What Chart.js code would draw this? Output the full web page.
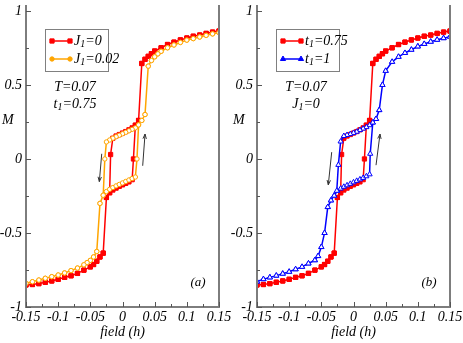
<!DOCTYPE html>
<html>
<head>
<meta charset="utf-8">
<script src="https://cdn.jsdelivr.net/npm/chart.js@4/dist/chart.umd.min.js"></script>
<style>
  html, body { margin: 0; padding: 0; background: #fff; }
  #wrap { position: relative; width: 463px; height: 343px; }
  canvas { position: absolute; top: 0; }
</style>
</head>
<body>
<div id="wrap">
  <canvas id="chartA" width="231" height="343" style="left:0"></canvas>
  <canvas id="chartB" width="232" height="343" style="left:231px"></canvas>
</div>
<script>
// each loop is split in 4 parts: lower outer branch, inner ascending branch,
// upper outer branch, inner descending branch (field h -> magnetisation M)

// J1=0, t1=0.75 (red, in both panels)
const redLowH = [-0.15, -0.14, -0.13, -0.12, -0.11, -0.10, -0.09, -0.08, -0.07, -0.06, -0.05, -0.045, -0.04, -0.035, -0.03];
const redLowM = [-0.851, -0.848, -0.842, -0.833, -0.824, -0.813, -0.800, -0.789, -0.773, -0.751, -0.729, -0.713, -0.691, -0.662, -0.636];
const redUpH = [-0.025, -0.02, -0.015, -0.01, -0.005, 0, 0.005, 0.01, 0.015, 0.017, 0.02, 0.025];
const redUpM = [-0.26, -0.228, -0.21, -0.197, -0.185, -0.175, -0.165, -0.155, -0.14, 0.0, 0.228, 0.26];
const redHighH = [0.03, 0.035, 0.04, 0.045, 0.05, 0.06, 0.07, 0.08, 0.09, 0.10, 0.11, 0.12, 0.13, 0.14, 0.15];
const redHighM = [0.645, 0.673, 0.693, 0.711, 0.729, 0.751, 0.773, 0.789, 0.804, 0.817, 0.829, 0.837, 0.848, 0.857, 0.864];
const redDownH = [0.025, 0.02, 0.015, 0.01, 0.005, 0, -0.005, -0.01, -0.015, -0.0185, -0.02, -0.025];
const redDownM = [0.26, 0.228, 0.21, 0.197, 0.185, 0.175, 0.165, 0.155, 0.14, 0.03, -0.228, -0.26];

// J1=0.02 (orange, panel a)
const orgLowH = [-0.15, -0.14, -0.13, -0.12, -0.11, -0.10, -0.09, -0.08, -0.07, -0.06, -0.055, -0.05, -0.045, -0.04];
const orgLowM = [-0.84, -0.829, -0.818, -0.806, -0.795, -0.784, -0.77, -0.754, -0.737, -0.715, -0.70, -0.685, -0.662, -0.625];
const orgUpH = [-0.035, -0.03, -0.025, -0.02, -0.015, -0.01, -0.005, 0, 0.005, 0.01, 0.015, 0.02, 0.0225, 0.025, 0.03, 0.035];
const orgUpM = [-0.30, -0.245, -0.22, -0.205, -0.193, -0.182, -0.172, -0.162, -0.152, -0.142, -0.132, -0.122, 0.0, 0.23, 0.26, 0.30];
const orgHighH = [0.04, 0.045, 0.05, 0.055, 0.06, 0.07, 0.08, 0.09, 0.10, 0.11, 0.12, 0.13, 0.14, 0.15];
const orgHighM = [0.627, 0.665, 0.69, 0.71, 0.727, 0.751, 0.77, 0.787, 0.803, 0.813, 0.824, 0.835, 0.845, 0.853];
const orgDownH = [0.035, 0.03, 0.025, 0.02, 0.015, 0.01, 0.005, 0, -0.005, -0.01, -0.015, -0.02, -0.025, -0.0275, -0.03, -0.035];
const orgDownM = [0.30, 0.26, 0.23, 0.21, 0.2, 0.19, 0.18, 0.17, 0.16, 0.15, 0.14, 0.128, 0.115, 0.0, -0.245, -0.30];

// t1=1 (blue, panel b)
const bluLowH = [-0.15, -0.14, -0.13, -0.12, -0.11, -0.10, -0.09, -0.08, -0.07, -0.06, -0.055, -0.05, -0.045];
const bluLowM = [-0.828, -0.812, -0.80, -0.788, -0.775, -0.762, -0.745, -0.729, -0.706, -0.684, -0.656, -0.595, -0.50];
const bluUpH = [-0.04, -0.035, -0.03, -0.025, -0.02, -0.015, -0.01, -0.005, 0, 0.005, 0.01, 0.015, 0.02, 0.025, 0.026, 0.03, 0.035, 0.04];
const bluUpM = [-0.325, -0.28, -0.248, -0.215, -0.2, -0.188, -0.178, -0.168, -0.158, -0.148, -0.138, -0.128, -0.117, -0.104, 0.035, 0.246, 0.27, 0.33];
const bluHighH = [0.045, 0.05, 0.06, 0.07, 0.08, 0.09, 0.10, 0.11, 0.12, 0.13, 0.14, 0.15];
const bluHighM = [0.50, 0.595, 0.656, 0.69, 0.716, 0.738, 0.76, 0.777, 0.792, 0.805, 0.816, 0.826];
const bluDownH = [0.04, 0.035, 0.03, 0.025, 0.02, 0.015, 0.01, 0.005, 0, -0.005, -0.01, -0.015, -0.02, -0.0235, -0.026, -0.03, -0.035, -0.04];
const bluDownM = [0.33, 0.27, 0.246, 0.228, 0.215, 0.205, 0.195, 0.184, 0.176, 0.168, 0.162, 0.155, 0.118, -0.04, -0.215, -0.248, -0.28, -0.325];

const xTicks = [-0.15, -0.125, -0.1, -0.075, -0.05, -0.025, 0, 0.025, 0.05, 0.075, 0.1, 0.125, 0.15];
const xLabels = [-0.15, -0.1, -0.05, 0, 0.05, 0.1, 0.15];
const yTicks = [-1, -0.75, -0.5, -0.25, 0, 0.25, 0.5, 0.75, 1];
const yLabels = [-1, -0.5, 0, 0.5, 1];

const RED = '#ff0000', ORANGE = '#ffa500', BLUE = '#0000ff';
const SERIF = '"Liberation Serif", "Times New Roman", serif';

function loopPoints(lowH, lowM, upH, upM, highH, highM, downH, downM) {
    const pts = [];
    const add = (hs, ms) => hs.forEach((h, i) => pts.push({x: h, y: ms[i]}));
    add(lowH, lowM);
    add(upH, upM);
    add(highH, highM);
    add(highH.slice().reverse(), highM.slice().reverse());
    add(downH, downM);
    add(lowH.slice().reverse(), lowM.slice().reverse());
    return pts;
}

const redLoop = loopPoints(redLowH, redLowM, redUpH, redUpM, redHighH, redHighM, redDownH, redDownM);
const orgLoop = loopPoints(orgLowH, orgLowM, orgUpH, orgUpM, orgHighH, orgHighM, orgDownH, orgDownM);
const bluLoop = loopPoints(bluLowH, bluLowM, bluUpH, bluUpM, bluHighH, bluHighM, bluDownH, bluDownM);

const styles = {
    red: {color: RED, pointStyle: 'rect', radius: 3, fill: RED},
    orange: {color: ORANGE, pointStyle: 'circle', radius: 2.2, fill: '#fff'},
    blue: {color: BLUE, pointStyle: 'triangle', radius: 3, fill: '#fff'}
};

function dataset(pts, st) {
    return {
        data: pts,
        showLine: true,
        borderColor: st.color,
        borderWidth: 1.5,
        pointStyle: st.pointStyle,
        pointRadius: st.radius,
        pointBackgroundColor: st.fill,
        pointBorderColor: st.color,
        pointBorderWidth: 1,
        tension: 0
    };
}

function richText(ctx, parts, x, y, align) {
    const big = 'italic 14px ' + SERIF, small = 'italic 10px ' + SERIF;
    let w = 0;
    parts.forEach(([t, sub]) => { ctx.font = sub ? small : big; w += ctx.measureText(t).width; });
    let cx = align === 'center' ? x - w / 2 : x;
    ctx.textAlign = 'left';
    ctx.textBaseline = 'middle';
    parts.forEach(([t, sub]) => {
        ctx.font = sub ? small : big;
        ctx.fillText(t, cx, sub ? y + 3 : y);
        cx += ctx.measureText(t).width;
    });
}

function arrow(ctx, x1, y1, x2, y2) {
    const a = Math.atan2(y2 - y1, x2 - x1);
    ctx.beginPath();
    ctx.moveTo(x1, y1);
    ctx.lineTo(x2, y2);
    ctx.moveTo(x2 - 5 * Math.cos(a - 0.35), y2 - 5 * Math.sin(a - 0.35));
    ctx.lineTo(x2, y2);
    ctx.lineTo(x2 - 5 * Math.cos(a + 0.35), y2 - 5 * Math.sin(a + 0.35));
    ctx.stroke();
}

function decorations(cfg) {
    return {
        id: 'decor',
        afterDraw(chart) {
            const ctx = chart.ctx;
            const {left, right, top, bottom} = chart.chartArea;
            const xs = chart.scales.x, ys = chart.scales.y;
            ctx.save();
            // frame
            ctx.strokeStyle = '#7d7d7d';
            ctx.lineWidth = 2;
            ctx.beginPath();
            ctx.moveTo(left, top); ctx.lineTo(left, bottom); ctx.lineTo(right, bottom); ctx.lineTo(right, top);
            ctx.stroke();
            // inward ticks
            ctx.lineWidth = 1;
            ctx.strokeStyle = '#555';
            ctx.beginPath();
            xTicks.forEach(v => {
                const px = Math.round(xs.getPixelForValue(v)) + 0.5;
                const len = xLabels.includes(v) ? 5 : 3;
                ctx.moveTo(px, bottom); ctx.lineTo(px, bottom - len);
            });
            yTicks.forEach(v => {
                const py = Math.round(ys.getPixelForValue(v)) + 0.5;
                const len = yLabels.includes(v) ? 5 : 3;
                ctx.moveTo(left, py); ctx.lineTo(left + len, py);
            });
            ctx.stroke();

            ctx.fillStyle = '#000';
            // axis titles
            richText(ctx, [['M', false]], 2, 120, 'left');
            richText(ctx, [['field (h)', false]], (left + right) / 2, 332, 'center');
            // notes
            cfg.notes.forEach((n, i) => richText(ctx, n, 75, 87 + i * 17, 'center'));
            ctx.font = 'italic 13px ' + SERIF;
            ctx.textAlign = 'center';
            ctx.fillText(cfg.tag, 198, 283);

            // legend
            ctx.strokeStyle = '#808080';
            ctx.lineWidth = 1;
            ctx.strokeRect(45.5, 29.5, 63, 42);
            cfg.legend.forEach((item, i) => {
                const y = 41 + i * 18;
                const st = styles[item.style];
                ctx.strokeStyle = st.color;
                ctx.lineWidth = 1.5;
                ctx.beginPath(); ctx.moveTo(52, y); ctx.lineTo(70, y); ctx.stroke();
                ctx.fillStyle = st.color;
                ctx.lineWidth = 1;
                [52, 70].forEach(px => Chart.helpers.drawPoint(ctx,
                    {pointStyle: st.pointStyle, radius: st.radius, rotation: 0, borderWidth: 1}, px, y));
                ctx.fillStyle = '#000';
                richText(ctx, item.text, 74, y, 'left');
            });

            // sweep arrows
            ctx.strokeStyle = '#333';
            ctx.lineWidth = 1;
            cfg.arrows.forEach(a => arrow(ctx,
                xs.getPixelForValue(a[0]), ys.getPixelForValue(a[1]),
                xs.getPixelForValue(a[2]), ys.getPixelForValue(a[3])));
            ctx.restore();
        }
    };
}

function makePanel(id, datasets, cfg) {
    const tickFont = {family: SERIF, style: 'italic', size: 14};
    return new Chart(document.getElementById(id), {
        type: 'scatter',
        data: {datasets: datasets},
        options: {
            responsive: false,
            animation: false,
            layout: {padding: {left: 0, right: cfg.padRight, top: 0, bottom: 0}},
            plugins: {legend: {display: false}, tooltip: {enabled: false}},
            scales: {
                x: {
                    type: 'linear', min: -0.15, max: 0.15,
                    afterBuildTicks: s => { s.ticks = xTicks.map(v => ({value: v})); },
                    afterFit: s => { s.height = 36; s.paddingLeft = 0; s.paddingRight = 0; },
                    grid: {display: false, drawTicks: false},
                    border: {display: false},
                    ticks: {
                        autoSkip: false, maxRotation: 0, padding: 2, color: '#000', font: tickFont,
                        callback: v => xLabels.includes(v) ? String(v) : ''
                    }
                },
                y: {
                    type: 'linear', min: -1, max: 1.04,
                    afterBuildTicks: s => { s.ticks = yTicks.map(v => ({value: v})); },
                    afterFit: s => { s.width = 26; s.paddingTop = 0; s.paddingBottom = 0; },
                    grid: {display: false, drawTicks: false},
                    border: {display: false},
                    ticks: {
                        autoSkip: false, padding: 4, color: '#000', font: tickFont,
                        callback: v => yLabels.includes(v) ? String(v) : ''
                    }
                }
            }
        },
        plugins: [decorations(cfg)]
    });
}

makePanel('chartA', [dataset(orgLoop, styles.orange), dataset(redLoop, styles.red)], {
    padRight: 12,
    tag: '(a)',
    notes: [[['T=0.07', false]], [['t', false], ['1', true], ['=0.75', false]]],
    legend: [
        {style: 'red', text: [['J', false], ['1', true], ['=0', false]]},
        {style: 'orange', text: [['J', false], ['1', true], ['=0.02', false]]}
    ],
    arrows: [[-0.0323, 0.035, -0.036, -0.153], [0.0314, -0.046, 0.035, 0.168]]
});

makePanel('chartB', [dataset(bluLoop, styles.blue), dataset(redLoop, styles.red)], {
    padRight: 13,
    tag: '(b)',
    notes: [[['T=0.07', false]], [['J', false], ['1', true], ['=0', false]]],
    legend: [
        {style: 'red', text: [['t', false], ['1', true], ['=0.75', false]]},
        {style: 'blue', text: [['t', false], ['1', true], ['=1', false]]}
    ],
    arrows: [[-0.0339, 0.046, -0.0392, -0.175], [0.035, -0.042, 0.0412, 0.168]]
});
</script>
</body>
</html>
